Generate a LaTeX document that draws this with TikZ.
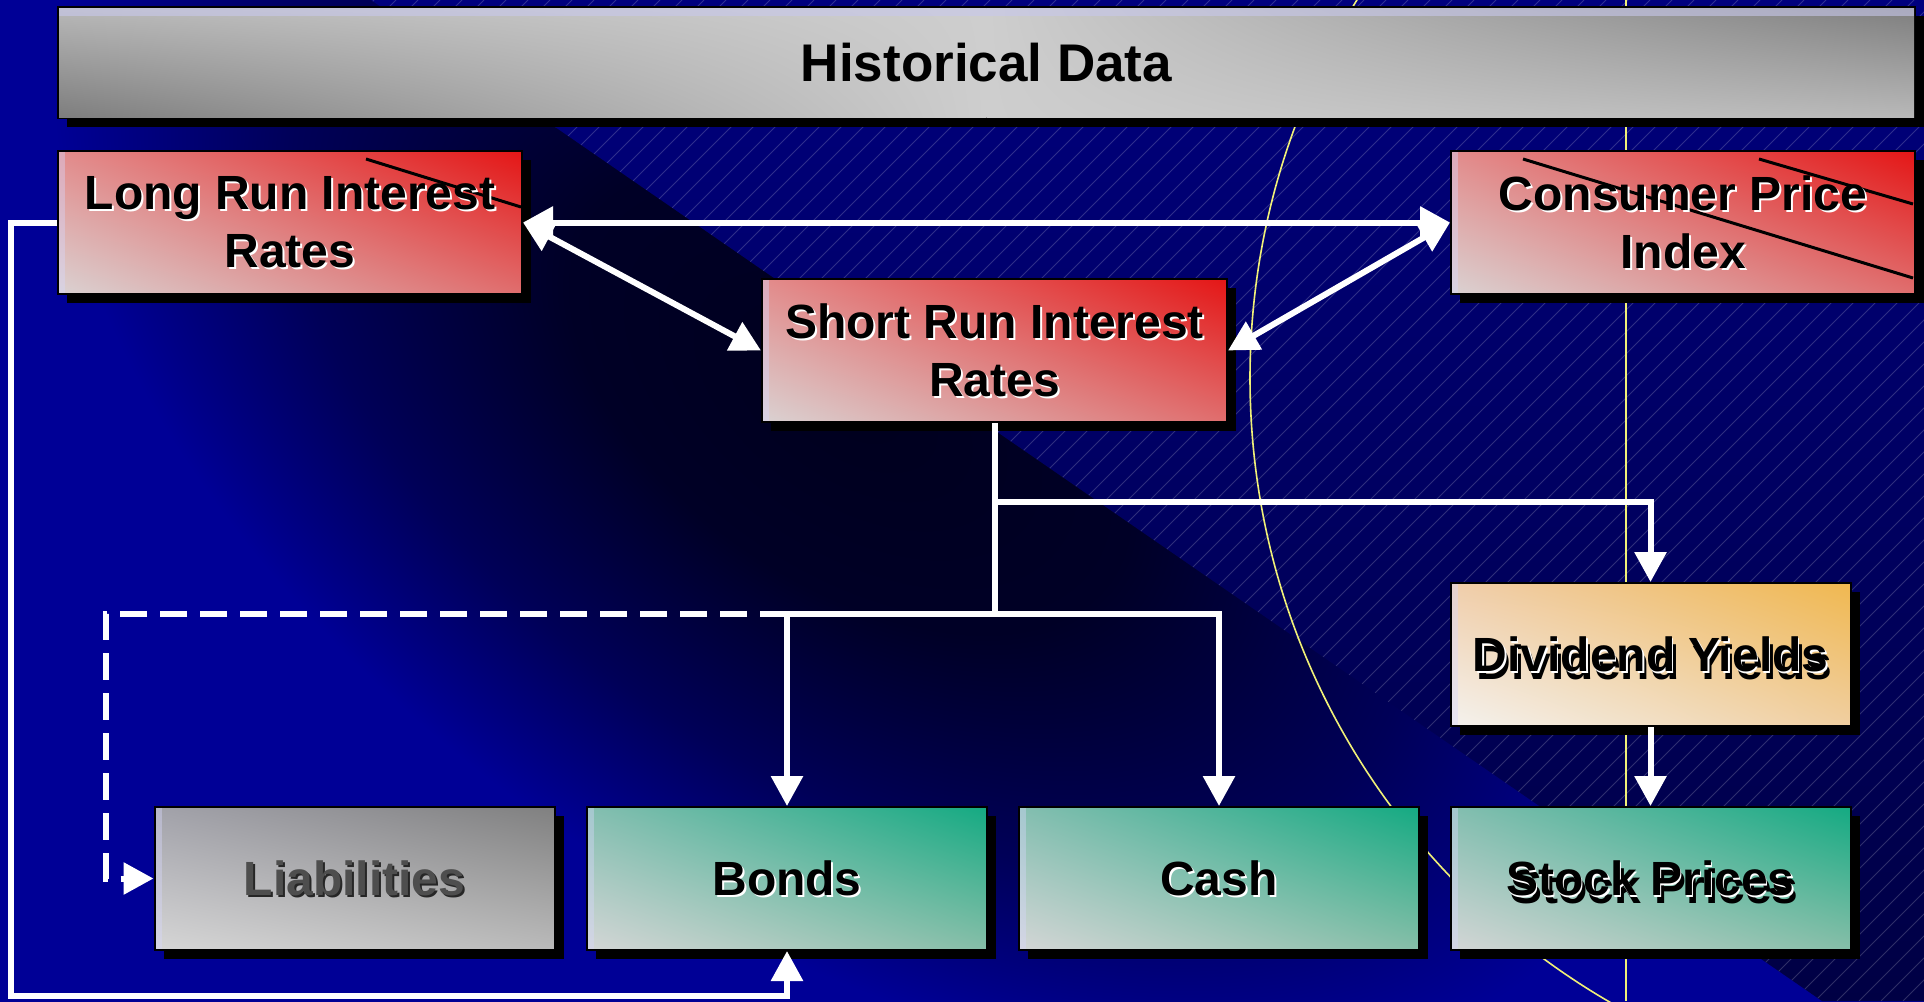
\documentclass[tikz,border=0pt]{standalone}
\usepackage{fontspec}
\setmainfont{Liberation Sans}
\usetikzlibrary{arrows.meta,shadows,shadings}

% backdrop colours
\definecolor{bgblue}{RGB}{0,0,150}
\definecolor{bgmid}{RGB}{0,0,88}
\definecolor{bgdark}{RGB}{0,0,38}
\definecolor{bgdeep}{RGB}{0,0,30}
\definecolor{sheettop}{RGB}{0,0,126}
\definecolor{sheetbot}{RGB}{0,0,68}
\definecolor{ringyellow}{RGB}{240,240,120}
% panel colours
\definecolor{hdDark}{RGB}{126,126,126}
\definecolor{hdDim}{RGB}{184,184,184}
\definecolor{hdLight}{RGB}{206,206,206}
\definecolor{hdGlint}{RGB}{200,200,236}
\definecolor{edgeGlint}{RGB}{215,215,252}
\definecolor{redUL}{RGB}{226,140,140}
\definecolor{redUR}{RGB}{228,22,22}
\definecolor{redLL}{RGB}{218,210,210}
\definecolor{redLR}{RGB}{224,110,110}
\definecolor{grnUL}{RGB}{132,190,176}
\definecolor{grnUR}{RGB}{20,170,130}
\definecolor{grnLL}{RGB}{212,214,214}
\definecolor{grnLR}{RGB}{134,190,168}
\definecolor{gryUL}{RGB}{162,162,170}
\definecolor{gryUR}{RGB}{128,128,128}
\definecolor{gryLL}{RGB}{214,214,214}
\definecolor{gryLR}{RGB}{186,186,186}
\definecolor{orgUL}{RGB}{240,206,172}
\definecolor{orgUR}{RGB}{240,184,80}
\definecolor{orgLL}{RGB}{244,242,238}
\definecolor{orgLR}{RGB}{240,206,160}
\definecolor{liabText}{RGB}{78,78,78}
\definecolor{liabShade}{RGB}{38,38,38}

\pgfdeclareradialshading{bgblob}{\pgfpoint{0bp}{0bp}}{color(0bp)=(bgdeep); color(3.5bp)=(bgdark); color(7bp)=(bgmid); color(10bp)=(bgblue); color(50bp)=(bgblue)}

\tikzset{
  panel/.style={rectangle, draw=black, line width=2pt, inner sep=0pt,
    minimum width=400pt, minimum height=143pt, shade,
    drop shadow={shadow xshift=9pt, shadow yshift=-9pt, fill=black, opacity=1}},
  redpanel/.style={panel, minimum width=464pt,
    upper left=redUL, upper right=redUR, lower left=redLL, lower right=redLR},
  greenpanel/.style={panel,
    upper left=grnUL, upper right=grnUR, lower left=grnLL, lower right=grnLR},
  graypanel/.style={panel,
    upper left=gryUL, upper right=gryUR, lower left=gryLL, lower right=gryLR},
  orangepanel/.style={panel,
    upper left=orgUL, upper right=orgUR, lower left=orgLL, lower right=orgLR},
  glint/.style={fill=edgeGlint, opacity=0.4},
  lbl/.style={inner sep=0pt, align=center, text=black,
    font=\bfseries\fontsize{48}{58}\selectfont},
  lblglow/.style={lbl, text=white, xshift=2pt, yshift=-2pt},
  wire/.style={draw=white, line width=6pt},
  dashwire/.style={wire, dash pattern=on 27pt off 13pt},
  head/.style={-{Triangle[length=30pt,width=31pt]}},
  heads/.style={{Triangle[length=30pt,width=31pt]}-{Triangle[length=30pt,width=31pt]}},
  slash/.style={draw=black, line width=3pt},
  hatchline/.style={draw=white, opacity=0.18, line width=0.9pt},
  ringline/.style={draw=ringyellow, line width=1.6pt},
}

\begin{document}
\begin{tikzpicture}[x=1pt,y=-1pt]
\useasboundingbox (0,0) rectangle (1924,1001);

% ---- backdrop: blue field with a dark diagonal blob
\fill[bgblue] (0,0) rectangle (1924,1001);
\begin{scope}
  \clip (0,0) rectangle (1924,1001);
  \begin{scope}[transform canvas={shift={(850,400)},rotate=-34.6}]
    \shade[shading=bgblob] (-2250,-1300) rectangle (2250,1300);
  \end{scope}
\end{scope}

% ---- hatched sheet in the upper right
\shade[top color=sheettop, bottom color=sheetbot]
  (371,0) -- (1924,0) -- (1924,1001) -- (1822,1001) -- cycle;
\begin{scope}
  \clip (371,0) -- (1924,0) -- (1924,1001) -- (1822,1001) -- cycle;
  \foreach \k in {0,...,136} \draw[hatchline] ({\k*22-1001},1001) -- ({\k*22},0);
\end{scope}

% ---- thin yellow ring and rule
\draw[ringline] (1971,378) circle[radius=721];
\draw[ringline] (1626,0) -- (1626,1001);

% ---- title bar: silver, darker towards the lower left and upper right corners
\node[panel, minimum width=1857pt, minimum height=111pt, fill=hdLight] (hd) at (986.5,62.5) {};
\shade[upper left=hdDim, upper right=hdLight, lower left=hdDark, lower right=hdLight]
  ([xshift=2pt,yshift=-2pt]hd.north west) rectangle ([yshift=2pt]hd.south);
\shade[upper left=hdLight, upper right=hdDark, lower left=hdLight, lower right=hdDim]
  ([yshift=-2pt]hd.north) rectangle ([xshift=-2pt,yshift=2pt]hd.south east);
\fill[hdGlint, opacity=0.6] ([xshift=2pt,yshift=-2pt]hd.north west) rectangle ([xshift=-2pt,yshift=-10pt]hd.north east);
\node[lbl, font=\bfseries\fontsize{53}{64}\selectfont] (hd-t) at (hd) {Historical Data};

% ---- panels
\node[redpanel] (lr) at (290,222.5) {};
\node[redpanel, minimum width=465pt] (sr) at (994.5,350.5) {};
\node[redpanel] (cpi) at (1683,222.5) {};
\node[orangepanel] (dy) at (1650.5,654.5) {};
\node[graypanel] (li) at (354.5,878.5) {};
\node[greenpanel] (bo) at (787,878.5) {};
\node[greenpanel] (ca) at (1219,878.5) {};
\node[greenpanel] (sp) at (1650.5,878.5) {};

% light strip along the inner left edge of each panel
\foreach \p in {lr,sr,cpi,dy,li,bo,ca,sp}
  \fill[glint] ([xshift=2pt,yshift=-2pt]\p.north west) rectangle ([xshift=8pt,yshift=2pt]\p.south west);

\draw[slash] (366,159) -- (521,207);
\draw[slash] (1523,159) -- (1913,278);
\draw[slash] (1759,159) -- (1913,204);

% ---- labels
\node[lblglow] (lr-s) at (lr) {Long Run Interest\\Rates};
\node[lbl] (lr-t) at (lr) {Long Run Interest\\Rates};
\node[lblglow] (sr-s) at (sr) {Short Run Interest\\Rates};
\node[lbl] (sr-t) at (sr) {Short Run Interest\\Rates};
\node[lblglow] (cpi-s) at (cpi) {Consumer Price\\Index};
\node[lbl] (cpi-t) at (cpi) {Consumer Price\\Index};

\node[lbl, xshift=4pt, yshift=-8pt] (dy-b) at (dy) {Dividend Yields};
\node[lblglow, xshift=-0.5pt, yshift=0.5pt] (dy-s) at (dy) {Dividend Yields};
\node[lbl] (dy-t) at (dy) {Dividend Yields};

\node[lbl, text=liabShade, xshift=2pt, yshift=-2pt] (li-s) at (li) {Liabilities};
\node[lbl, text=liabText] (li-t) at (li) {Liabilities};
\node[lblglow] (bo-s) at (bo) {Bonds};
\node[lbl] (bo-t) at (bo) {Bonds};
\node[lblglow] (ca-s) at (ca) {Cash};
\node[lbl] (ca-t) at (ca) {Cash};
\node[lbl, xshift=4pt, yshift=-8pt] (sp-b) at (sp) {Stock Prices};
\node[lblglow, xshift=-0.5pt, yshift=0.5pt] (sp-s) at (sp) {Stock Prices};
\node[lbl] (sp-t) at (sp) {Stock Prices};

% ---- connectors
\coordinate (j1) at (994.5,502);
\coordinate (j2) at (994.5,614);
\coordinate (dj) at (787,614);
\coordinate (dl) at (106,614);
\coordinate (lp1) at (11,222.5);
\coordinate (lp2) at (11,996);
\coordinate (lp3) at (787,996);

\draw[wire, heads] (lr.east) -- (cpi.west);
\draw[wire, heads] (lr.east) -- (sr.west);
\draw[wire, heads] (sr.east) -- (cpi.west);

\draw[wire] (sr.south) -- (j2);
\draw[wire, head] (j1) -| (dy.north);
\draw[wire, head] (j2) -| (bo.north);
\draw[wire, head] (j2) -| (ca.north);
\draw[dashwire, head] (dj) -- (dl) |- (li.west);
\draw[wire, head] (dy.south) -- (sp.north);
\draw[wire, head] (lr.west) -- (lp1) -- (lp2) -- (lp3) -- (bo.south);
\end{tikzpicture}
\end{document}
